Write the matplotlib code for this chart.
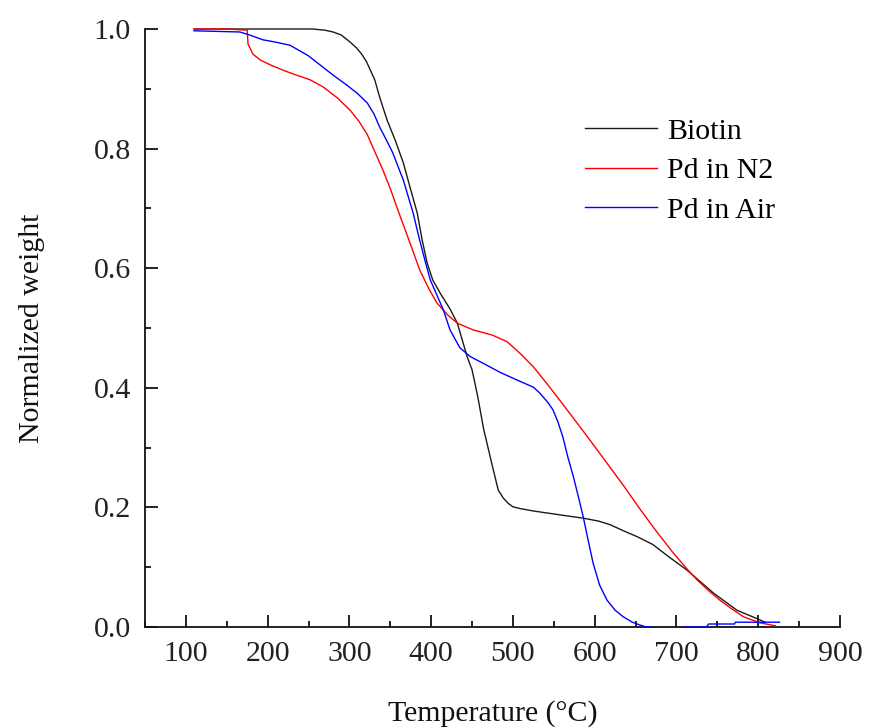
import numpy as np
import matplotlib
matplotlib.use("Agg")
import matplotlib.pyplot as plt
from matplotlib.ticker import MultipleLocator

plt.rcParams['font.family'] = ['Liberation Serif', 'DejaVu Serif']

# ---- data ----
biotin_T = [110, 150, 200, 255, 270, 280, 290, 301, 309, 315, 321, 326, 331, 337, 346, 356,
            366, 374, 383, 389, 395, 402, 412, 423, 432, 444, 450, 457, 464, 474, 482, 488,
            494, 500, 509, 525, 545, 565, 586, 605, 619, 635, 652, 671, 690, 713, 745,
            774, 802, 808]
biotin_W = [1.0, 1.0, 1.0, 1.0, 0.998, 0.995, 0.99, 0.978, 0.968, 0.958, 0.945, 0.93,
            0.915, 0.886, 0.848, 0.814, 0.776, 0.736, 0.692, 0.647, 0.609, 0.58, 0.556,
            0.532, 0.508, 0.452, 0.43, 0.385, 0.332, 0.274, 0.229, 0.216, 0.207, 0.201,
            0.198, 0.194, 0.19, 0.186, 0.182, 0.177, 0.171, 0.161, 0.151, 0.138, 0.118,
            0.095, 0.057, 0.028, 0.012, 0.008]

n2_T = [110, 150, 175, 176, 182, 191, 205, 219, 235, 252, 268, 285, 301, 312, 322, 331,
        341, 350, 358, 365, 372, 386, 397, 407, 420, 432, 451, 475, 493, 510, 525, 545,
        573, 595, 615, 636, 656, 676, 696, 711, 725, 740, 753, 768, 782, 802, 821]
n2_W = [1.0, 1.0, 0.998, 0.975, 0.958, 0.948, 0.939, 0.931, 0.923, 0.915, 0.903, 0.885,
        0.864, 0.845, 0.823, 0.795, 0.764, 0.733, 0.702, 0.676, 0.65, 0.597, 0.566,
        0.542, 0.522, 0.508, 0.497, 0.488, 0.477, 0.456, 0.435, 0.401, 0.351, 0.311,
        0.274, 0.235, 0.196, 0.159, 0.124, 0.1, 0.079, 0.06, 0.045, 0.03, 0.017,
        0.007, 0.002]

air_T = [110, 166, 178, 194, 210, 227, 240, 250, 264, 280, 297, 310, 322, 330, 337, 345,
         353, 366, 378, 385, 392, 399, 407, 415, 423, 435, 448, 465, 484, 505, 525, 533,
         543, 549, 555, 561, 567, 574, 580, 586, 592, 598, 606, 615, 625, 635, 646, 656,
         663, 668, np.nan, 708, 737, 739, 771, 772, 826]
air_W = [0.997, 0.995, 0.99, 0.982, 0.978, 0.973, 0.963, 0.955, 0.94, 0.923, 0.906,
         0.892, 0.876, 0.858, 0.836, 0.815, 0.793, 0.747, 0.692, 0.652, 0.615, 0.58,
         0.555, 0.53, 0.497, 0.467, 0.452, 0.44, 0.426, 0.413, 0.401, 0.391, 0.375,
         0.363, 0.343, 0.318, 0.285, 0.251, 0.218, 0.184, 0.145, 0.107, 0.07, 0.045,
         0.028, 0.017, 0.008, 0.003, 0.0, 0.0,
         np.nan, 0.0, 0.0, 0.005, 0.005, 0.008, 0.008]

labels = ["Biotin", "Pd in N2", "Pd in Air"]
colors = ["#1a1a1a", "#ff0000", "#0000ff"]

FS = 21.5

fig = plt.figure(figsize=(8.72, 7.28), dpi=100)
ax = fig.add_axes([145/872, 1-627/728, (840-145)/872, (627-29)/728])

ax.plot(biotin_T, biotin_W, color=colors[0], lw=1.0, label=labels[0], clip_on=False, zorder=3)
ax.plot(n2_T, n2_W, color=colors[1], lw=1.0, label=labels[1], clip_on=False, zorder=3)
ax.plot(air_T, air_W, color=colors[2], lw=1.0, label=labels[2], clip_on=False, zorder=3)

ax.set_xlim(50, 900)
ax.set_ylim(0, 1.0)
ax.xaxis.set_major_locator(MultipleLocator(100))
ax.xaxis.set_minor_locator(MultipleLocator(50))
ax.yaxis.set_major_locator(MultipleLocator(0.2))
ax.yaxis.set_minor_locator(MultipleLocator(0.1))
ax.yaxis.set_major_formatter(matplotlib.ticker.FormatStrFormatter('%.1f'))

for s in ['top', 'right']:
    ax.spines[s].set_visible(False)
for s in ['left', 'bottom']:
    ax.spines[s].set_linewidth(1.3)
    ax.spines[s].set_color('#111111')
    ax.spines[s].set_zorder(2)

ax.tick_params(which='major', direction='in', length=9, width=1.3, labelsize=FS, pad=10, colors='#111111')
ax.tick_params(which='minor', direction='in', length=4.5, width=1.3, colors='#111111')
ax.tick_params(axis='both', which='major', labelcolor='#222222')

ax.set_xlabel("Temperature (°C)", fontsize=FS, labelpad=24, color='#111111')
ax.set_ylabel("Normalized weight", fontsize=FS, labelpad=35, color='#111111')

leg = ax.legend(loc='upper left', bbox_to_anchor=(585/872, 1-118/728),
                bbox_transform=fig.transFigure, frameon=False, fontsize=FS,
                handlelength=2.4, handletextpad=0.35, labelspacing=0.42,
                borderpad=0, borderaxespad=0)

fig.savefig("out.png", dpi=100)
